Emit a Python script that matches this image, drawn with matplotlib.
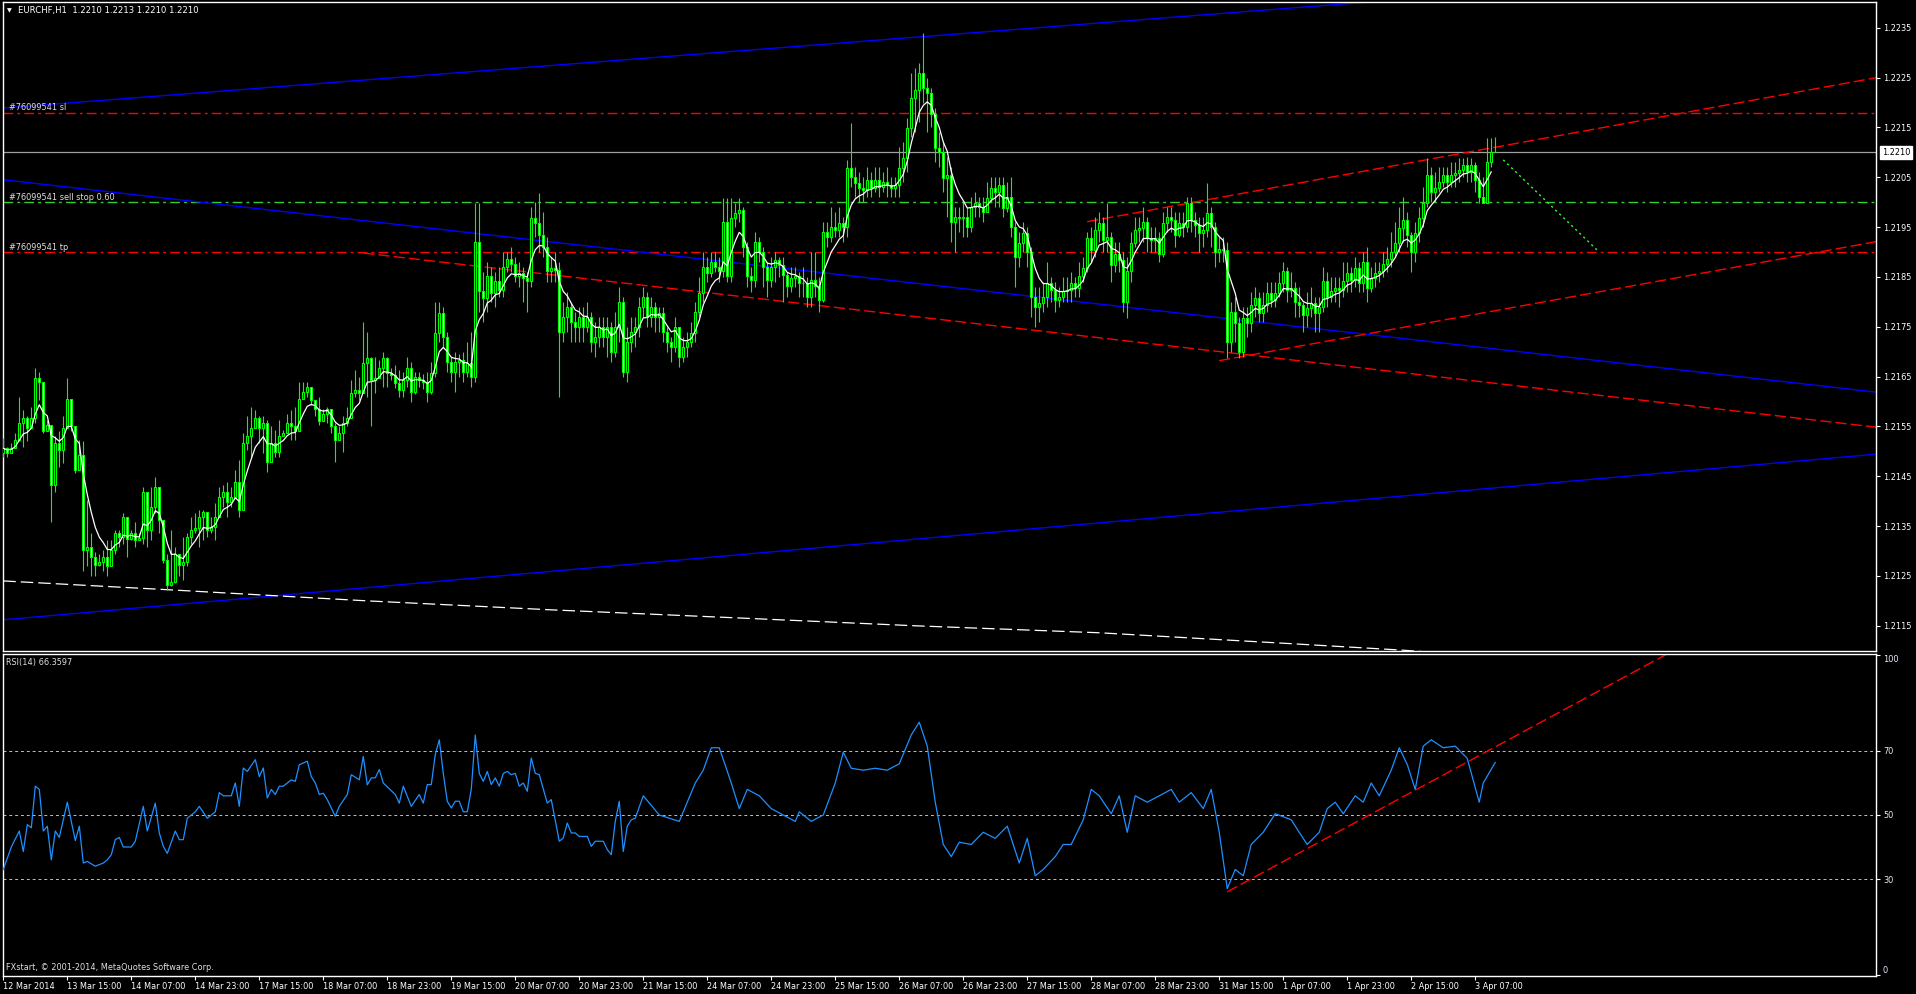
import numpy as np
import pandas as pd
import matplotlib
matplotlib.use("Agg")
import matplotlib.pyplot as plt
from matplotlib.transforms import blended_transform_factory

# ---------------- data (EURCHF H1, 12 Mar 23:00 .. 3 Apr 12:00) ----------------
first_open = 1.21496
close = [
 1.21506, 1.21496, 1.21506, 1.21523, 1.21556, 1.21566, 1.21546, 1.21566, 1.21647, 1.21640,
 1.21540, 1.21553, 1.21433, 1.21516, 1.21503, 1.21546, 1.21606, 1.21550, 1.21463, 1.21493,
 1.21302, 1.21309, 1.21289, 1.21272, 1.21279, 1.21289, 1.21269, 1.21302, 1.21336, 1.21329,
 1.21369, 1.21325, 1.21336, 1.21322, 1.21327, 1.21419, 1.21342, 1.21389, 1.21429, 1.21362,
 1.21282, 1.21232, 1.21238, 1.21295, 1.21272, 1.21279, 1.21329, 1.21342, 1.21346, 1.21369,
 1.21379, 1.21342, 1.21349, 1.21369, 1.21409, 1.21419, 1.21399, 1.21409, 1.21439, 1.21382,
 1.21516, 1.21530, 1.21546, 1.21566, 1.21546, 1.21556, 1.21479, 1.21516, 1.21499, 1.21530,
 1.21536, 1.21556, 1.21550, 1.21540, 1.21606, 1.21620, 1.21629, 1.21603, 1.21586, 1.21560,
 1.21576, 1.21586, 1.21550, 1.21523, 1.21536, 1.21556, 1.21566, 1.21617, 1.21623, 1.21617,
 1.21677, 1.21687, 1.21643, 1.21647, 1.21667, 1.21687, 1.21657, 1.21653, 1.21637, 1.21623,
 1.21643, 1.21667, 1.21620, 1.21650, 1.21643, 1.21640, 1.21620, 1.21657, 1.21737, 1.21777,
 1.21730, 1.21680, 1.21660, 1.21680, 1.21683, 1.21660, 1.21677, 1.21650, 1.21921, 1.21821,
 1.21807, 1.21851, 1.21817, 1.21841, 1.21824, 1.21871, 1.21887, 1.21877, 1.21851, 1.21857,
 1.21847, 1.21841, 1.21968, 1.21958, 1.21934, 1.21911, 1.21861, 1.21867, 1.21864, 1.21740,
 1.21770, 1.21790, 1.21760, 1.21750, 1.21770, 1.21750, 1.21770, 1.21720, 1.21730, 1.21750,
 1.21730, 1.21750, 1.21700, 1.21750, 1.21800, 1.21660, 1.21720, 1.21740, 1.21750, 1.21790,
 1.21810, 1.21770, 1.21790, 1.21770, 1.21777, 1.21740, 1.21720, 1.21710, 1.21750, 1.21690,
 1.21710, 1.21720, 1.21737, 1.21780, 1.21817, 1.21871, 1.21857, 1.21881, 1.21871, 1.21861,
 1.21961, 1.21851, 1.21968, 1.21978, 1.21984, 1.21911, 1.21851, 1.21844, 1.21921, 1.21901,
 1.21871, 1.21844, 1.21871, 1.21884, 1.21874, 1.21854, 1.21831, 1.21847, 1.21851, 1.21837,
 1.21837, 1.21810, 1.21844, 1.21831, 1.21804, 1.21941, 1.21931, 1.21951, 1.21944, 1.21958,
 1.21951, 1.22068, 1.22051, 1.22038, 1.22028, 1.22025, 1.22045, 1.22028, 1.22045, 1.22031,
 1.22041, 1.22035, 1.22028, 1.22035, 1.22068, 1.22088, 1.22148, 1.22209, 1.22225, 1.22259,
 1.22229, 1.22219, 1.22178, 1.22108, 1.22101, 1.22048, 1.22055, 1.21961, 1.21971, 1.21968,
 1.21971, 1.21951, 1.21991, 1.21998, 1.21991, 1.21981, 1.22008, 1.22028, 1.22021, 1.22035,
 1.21988, 1.22011, 1.21951, 1.21891, 1.21918, 1.21938, 1.21901, 1.21810, 1.21790, 1.21797,
 1.21810, 1.21837, 1.21824, 1.21804, 1.21810, 1.21821, 1.21824, 1.21837, 1.21827, 1.21851,
 1.21867, 1.21928, 1.21904, 1.21944, 1.21958, 1.21924, 1.21931, 1.21874, 1.21897, 1.21884,
 1.21800, 1.21861, 1.21918, 1.21944, 1.21948, 1.21961, 1.21928, 1.21924, 1.21928, 1.21897,
 1.21958, 1.21971, 1.21964, 1.21934, 1.21958, 1.21951, 1.21998, 1.21964, 1.21954, 1.21938,
 1.21944, 1.21978, 1.21951, 1.21901, 1.21907, 1.21904, 1.21720, 1.21780, 1.21757, 1.21700,
 1.21767, 1.21757, 1.21794, 1.21807, 1.21777, 1.21794, 1.21817, 1.21804, 1.21817, 1.21837,
 1.21861, 1.21824, 1.21827, 1.21800, 1.21794, 1.21774, 1.21787, 1.21797, 1.21777, 1.21790,
 1.21841, 1.21810, 1.21821, 1.21827, 1.21824, 1.21841, 1.21857, 1.21844, 1.21867, 1.21837,
 1.21881, 1.21827, 1.21847, 1.21857, 1.21861, 1.21877, 1.21887, 1.21901, 1.21918, 1.21948,
 1.21964, 1.21934, 1.21901, 1.21938, 1.21968, 1.21998, 1.22055, 1.22021, 1.22028, 1.22041,
 1.22055, 1.22041, 1.22055, 1.22058, 1.22065, 1.22075, 1.22061, 1.22075, 1.22045, 1.22011,
 1.21998, 1.22081, 1.22100, 1.22100]

high = [
 1.21526, 1.21509, 1.21516, 1.21536, 1.21610, 1.21583, 1.21570, 1.21590, 1.21667, 1.21660,
 1.21630, 1.21563, 1.21543, 1.21530, 1.21540, 1.21570, 1.21647, 1.21603, 1.21536, 1.21523,
 1.21520, 1.21402, 1.21336, 1.21299, 1.21295, 1.21302, 1.21322, 1.21322, 1.21342, 1.21342,
 1.21376, 1.21362, 1.21342, 1.21359, 1.21336, 1.21429, 1.21416, 1.21429, 1.21449, 1.21429,
 1.21359, 1.21295, 1.21342, 1.21309, 1.21295, 1.21329, 1.21336, 1.21369, 1.21376, 1.21382,
 1.21382, 1.21369, 1.21369, 1.21396, 1.21429, 1.21433, 1.21439, 1.21429, 1.21463, 1.21483,
 1.21536, 1.21570, 1.21590, 1.21583, 1.21570, 1.21570, 1.21563, 1.21550, 1.21543, 1.21563,
 1.21543, 1.21576, 1.21583, 1.21590, 1.21640, 1.21640, 1.21640, 1.21630, 1.21603, 1.21610,
 1.21586, 1.21590, 1.21583, 1.21556, 1.21550, 1.21570, 1.21590, 1.21643, 1.21663, 1.21650,
 1.21760, 1.21740, 1.21690, 1.21690, 1.21683, 1.21700, 1.21690, 1.21667, 1.21673, 1.21663,
 1.21660, 1.21690, 1.21680, 1.21660, 1.21660, 1.21655, 1.21660, 1.21680, 1.21800, 1.21800,
 1.21790, 1.21740, 1.21690, 1.21700, 1.21695, 1.21700, 1.21720, 1.21740, 1.21998, 1.21998,
 1.21860, 1.21880, 1.21870, 1.21860, 1.21870, 1.21900, 1.21900, 1.21910, 1.21890, 1.21880,
 1.21870, 1.21860, 1.21990, 1.22000, 1.22018, 1.21980, 1.21930, 1.21890, 1.21900, 1.21880,
 1.21800, 1.21820, 1.21800, 1.21780, 1.21790, 1.21790, 1.21800, 1.21780, 1.21760, 1.21770,
 1.21770, 1.21770, 1.21760, 1.21780, 1.21830, 1.21810, 1.21750, 1.21770, 1.21770, 1.21810,
 1.21830, 1.21820, 1.21810, 1.21800, 1.21790, 1.21790, 1.21750, 1.21730, 1.21770, 1.21750,
 1.21730, 1.21740, 1.21760, 1.21800, 1.21850, 1.21900, 1.21890, 1.21900, 1.21900, 1.21890,
 1.22008, 1.22008, 1.22008, 1.21998, 1.22008, 1.21990, 1.21920, 1.21870, 1.21940, 1.21930,
 1.21910, 1.21880, 1.21890, 1.21900, 1.21890, 1.21890, 1.21860, 1.21870, 1.21870, 1.21860,
 1.21870, 1.21850, 1.21900, 1.21900, 1.21850, 1.21960, 1.21960, 1.21990, 1.21980, 1.21990,
 1.21970, 1.22085, 1.22158, 1.22070, 1.22060, 1.22050, 1.22070, 1.22060, 1.22070, 1.22070,
 1.22060, 1.22070, 1.22050, 1.22050, 1.22110, 1.22120, 1.22170, 1.22260, 1.22270, 1.22279,
 1.22339, 1.22249, 1.22230, 1.22190, 1.22140, 1.22120, 1.22090, 1.22070, 1.21990, 1.21990,
 1.22000, 1.21990, 1.22010, 1.22020, 1.22010, 1.22010, 1.22040, 1.22050, 1.22050, 1.22050,
 1.22050, 1.22040, 1.22050, 1.21960, 1.21940, 1.21960, 1.21950, 1.21910, 1.21830, 1.21830,
 1.21840, 1.21880, 1.21850, 1.21840, 1.21830, 1.21850, 1.21850, 1.21860, 1.21850, 1.21880,
 1.21890, 1.21940, 1.21950, 1.21970, 1.21980, 1.21970, 1.21998, 1.21940, 1.21920, 1.21920,
 1.21900, 1.21890, 1.21940, 1.21970, 1.21970, 1.21990, 1.21970, 1.21950, 1.21950, 1.21940,
 1.21980, 1.21990, 1.21990, 1.21980, 1.21980, 1.21980, 1.22010, 1.22010, 1.21980, 1.21970,
 1.21970, 1.22038, 1.21990, 1.21960, 1.21930, 1.21930, 1.21920, 1.21800, 1.21810, 1.21770,
 1.21790, 1.21790, 1.21820, 1.21830, 1.21820, 1.21820, 1.21840, 1.21840, 1.21840, 1.21860,
 1.21880, 1.21870, 1.21860, 1.21840, 1.21830, 1.21800, 1.21820, 1.21830, 1.21810, 1.21810,
 1.21870, 1.21860, 1.21850, 1.21850, 1.21850, 1.21880, 1.21880, 1.21870, 1.21890, 1.21880,
 1.21900, 1.21910, 1.21870, 1.21880, 1.21880, 1.21900, 1.21910, 1.21940, 1.21960, 1.21990,
 1.22010, 1.21980, 1.21940, 1.21960, 1.21990, 1.22030, 1.22088, 1.22070, 1.22060, 1.22070,
 1.22070, 1.22070, 1.22080, 1.22080, 1.22088, 1.22088, 1.22090, 1.22088, 1.22080, 1.22060,
 1.22050, 1.22128, 1.22128, 1.22130]

low = [
 1.21489, 1.21489, 1.21496, 1.21506, 1.21520, 1.21509, 1.21520, 1.21546, 1.21556, 1.21603,
 1.21536, 1.21546, 1.21359, 1.21419, 1.21469, 1.21476, 1.21546, 1.21540, 1.21456, 1.21469,
 1.21259, 1.21269, 1.21249, 1.21249, 1.21269, 1.21259, 1.21249, 1.21269, 1.21295, 1.21309,
 1.21315, 1.21289, 1.21322, 1.21309, 1.21322, 1.21315, 1.21309, 1.21322, 1.21376, 1.21336,
 1.21275, 1.21222, 1.21229, 1.21235, 1.21249, 1.21242, 1.21269, 1.21315, 1.21336, 1.21309,
 1.21322, 1.21329, 1.21336, 1.21322, 1.21389, 1.21389, 1.21369, 1.21389, 1.21416, 1.21369,
 1.21416, 1.21503, 1.21489, 1.21550, 1.21516, 1.21496, 1.21459, 1.21489, 1.21489, 1.21489,
 1.21530, 1.21540, 1.21523, 1.21523, 1.21546, 1.21610, 1.21610, 1.21593, 1.21570, 1.21553,
 1.21563, 1.21556, 1.21536, 1.21479, 1.21530, 1.21499, 1.21550, 1.21576, 1.21610, 1.21603,
 1.21634, 1.21610, 1.21550, 1.21617, 1.21647, 1.21630, 1.21630, 1.21643, 1.21627, 1.21610,
 1.21610, 1.21630, 1.21600, 1.21615, 1.21630, 1.21625, 1.21600, 1.21615, 1.21650, 1.21720,
 1.21710, 1.21660, 1.21640, 1.21620, 1.21650, 1.21640, 1.21650, 1.21630, 1.21640, 1.21780,
 1.21760, 1.21780, 1.21800, 1.21790, 1.21810, 1.21810, 1.21860, 1.21860, 1.21840, 1.21830,
 1.21800, 1.21780, 1.21830, 1.21930, 1.21900, 1.21890, 1.21840, 1.21840, 1.21840, 1.21610,
 1.21720, 1.21740, 1.21720, 1.21720, 1.21720, 1.21720, 1.21740, 1.21700, 1.21690, 1.21710,
 1.21710, 1.21690, 1.21680, 1.21690, 1.21720, 1.21650, 1.21640, 1.21700, 1.21710, 1.21730,
 1.21770, 1.21750, 1.21750, 1.21740, 1.21740, 1.21720, 1.21700, 1.21680, 1.21700, 1.21670,
 1.21680, 1.21690, 1.21710, 1.21720, 1.21770, 1.21800, 1.21840, 1.21850, 1.21860, 1.21840,
 1.21850, 1.21840, 1.21840, 1.21950, 1.21960, 1.21890, 1.21830, 1.21820, 1.21830, 1.21880,
 1.21830, 1.21810, 1.21830, 1.21840, 1.21850, 1.21800, 1.21810, 1.21820, 1.21830, 1.21810,
 1.21810, 1.21790, 1.21790, 1.21810, 1.21780, 1.21800, 1.21910, 1.21920, 1.21930, 1.21930,
 1.21920, 1.21930, 1.22030, 1.22010, 1.22000, 1.22000, 1.22010, 1.22010, 1.22020, 1.22010,
 1.22020, 1.22010, 1.22010, 1.22010, 1.22010, 1.22040, 1.22060, 1.22130, 1.22140, 1.22160,
 1.22200, 1.22140, 1.22150, 1.22080, 1.22070, 1.22020, 1.21970, 1.21920, 1.21900, 1.21940,
 1.21930, 1.21930, 1.21940, 1.21970, 1.21970, 1.21960, 1.21980, 1.22000, 1.21990, 1.21990,
 1.21970, 1.21980, 1.21930, 1.21830, 1.21870, 1.21900, 1.21870, 1.21770, 1.21750, 1.21760,
 1.21780, 1.21790, 1.21800, 1.21780, 1.21790, 1.21800, 1.21800, 1.21800, 1.21810, 1.21810,
 1.21840, 1.21860, 1.21880, 1.21890, 1.21920, 1.21900, 1.21900, 1.21840, 1.21860, 1.21860,
 1.21780, 1.21767, 1.21840, 1.21910, 1.21920, 1.21920, 1.21900, 1.21900, 1.21900, 1.21880,
 1.21890, 1.21940, 1.21940, 1.21910, 1.21930, 1.21930, 1.21940, 1.21940, 1.21930, 1.21900,
 1.21910, 1.21930, 1.21910, 1.21870, 1.21880, 1.21880, 1.21687, 1.21700, 1.21720, 1.21687,
 1.21690, 1.21730, 1.21740, 1.21770, 1.21760, 1.21760, 1.21780, 1.21790, 1.21790, 1.21810,
 1.21820, 1.21800, 1.21810, 1.21770, 1.21770, 1.21740, 1.21750, 1.21770, 1.21740, 1.21740,
 1.21780, 1.21790, 1.21800, 1.21800, 1.21790, 1.21810, 1.21820, 1.21820, 1.21830, 1.21820,
 1.21820, 1.21800, 1.21820, 1.21830, 1.21840, 1.21850, 1.21860, 1.21870, 1.21890, 1.21900,
 1.21920, 1.21910, 1.21860, 1.21880, 1.21920, 1.21950, 1.21990, 1.22000, 1.22000, 1.22020,
 1.22030, 1.22020, 1.22030, 1.22030, 1.22040, 1.22050, 1.22040, 1.22040, 1.22020, 1.21998,
 1.21998, 1.21998, 1.22070, 1.22100]

ma_span = 6

# long moving average (white dashed), read at a few bars
ma_long_bar = [0, 42, 91, 137, 183, 228, 274, 320, 350, 372]
ma_long_val = [1.21240, 1.21222, 1.21200, 1.21182, 1.21166, 1.21150, 1.21136, 1.21115, 1.21101, 1.21088]

time_labels = ["12 Mar 2014", "13 Mar 15:00", "14 Mar 07:00", "14 Mar 23:00", "17 Mar 15:00",
               "18 Mar 07:00", "18 Mar 23:00", "19 Mar 15:00", "20 Mar 07:00", "20 Mar 23:00",
               "21 Mar 15:00", "24 Mar 07:00", "24 Mar 23:00", "25 Mar 15:00", "26 Mar 07:00",
               "26 Mar 23:00", "27 Mar 15:00", "28 Mar 07:00", "28 Mar 23:00", "31 Mar 15:00",
               "1 Apr 07:00", "1 Apr 23:00", "2 Apr 15:00", "3 Apr 07:00"]
label_every = 16

price_ticks = [1.2115, 1.2125, 1.2135, 1.2145, 1.2155, 1.2165, 1.2175, 1.2185,
               1.2195, 1.2205, 1.2215, 1.2225, 1.2235]

bid_price = 1.2210
sl_price = 1.2218
stop_price = 1.2200
tp_price = 1.2190

# trend lines: (bar1, price1, bar2, price2)
blue_lines = [(0, 1.22189, 300, 1.22376),
              (0, 1.22045, 300, 1.21772),
              (0, 1.21162, 300, 1.21375)]
red_rays = [(90, 1.21898, 300, 1.21704),
            (304, 1.21682, 370, 1.21778),
            (271, 1.21961, 370, 1.22106)]
green_projection = (375, 1.22085, 399, 1.21900)

rsi_points = [
 (0, 33), (2, 40), (4, 45), (5, 38.6), (6, 47), (7, 46), (8, 59), (9, 58), (10, 45), (11, 46.5),
 (12, 36), (13, 45), (14, 43), (16, 54), (18, 42), (19, 46.5), (20, 35), (21, 35.5), (23, 34),
 (25, 35), (26, 36), (27, 37.6), (28, 42.3), (29, 43), (30, 40), (32, 40), (33, 41.8), (35, 52.7),
 (36, 45), (38, 53.7), (39, 44.4), (40, 40.2), (41, 38), (43, 45), (44, 42.3), (45, 42.3), (46, 49),
 (48, 51), (49, 52.7), (51, 49), (53, 51), (54, 57), (55, 56), (57, 56), (58, 60), (59, 52.7),
 (60, 64.7), (61, 63.6), (63, 67.3), (64, 62), (65, 64.7), (66, 55.3), (67, 58), (68, 56.4),
 (69, 59), (70, 59), (72, 61), (73, 60.5), (74, 65.7), (76, 66.8), (77, 62), (78, 60), (79, 56.4),
 (80, 56.8), (81, 54.8), (83, 49.6), (84, 52.7), (86, 56.4), (87, 62.6), (89, 61), (90, 68.3),
 (91, 59.4), (92, 61.6), (93, 61.6), (94, 64.2), (95, 60), (98, 56.4), (99, 53.7), (100, 59),
 (102, 52.7), (104, 56.4), (105, 53.7), (106, 59.5), (107, 59.5), (108, 68.9), (109, 73.5),
 (110, 63), (111, 54.3), (112, 52.2), (113, 54.3), (114, 54.3), (115, 51), (116, 51), (117, 58),
 (118, 75), (119, 63), (120, 60.5), (121, 63.6), (122, 59.5), (123, 61.6), (124, 59), (125, 63),
 (126, 63.6), (127, 62.6), (128, 63), (129, 59), (130, 60), (131, 57.4), (132, 67.8), (133, 63),
 (134, 62.6), (136, 53.7), (137, 54.8), (139, 41.8), (140, 42.8), (141, 47.5), (142, 44.4),
 (143, 44.4), (144, 43.3), (146, 43.3), (147, 40.2), (148, 41.8), (150, 41.8), (151, 39.2),
 (152, 37.6), (153, 48), (154, 54.3), (155, 38.6), (156, 46.5), (157, 48.5), (158, 49),
 (160, 56), (164, 50), (169, 48), (173, 60), (175, 64), (177, 71), (179, 71), (182, 60),
 (184, 52), (186, 58), (189, 56), (192, 52), (195, 50), (198, 48), (199, 51), (202, 48),
 (205, 50), (208, 60), (210, 69.6), (212, 64.6), (215, 64), (218, 64.6), (221, 64), (224, 66),
 (227, 75), (229, 79), (231, 71.5), (233, 54), (235, 40.8), (237, 37), (239, 41.5), (242, 40.8),
 (245, 44.6), (248, 42.7), (251, 46.5), (254, 35), (256, 42.7), (258, 31), (260, 33), (263, 37),
 (265, 40.8), (267, 40.8), (270, 48.5), (272, 58), (274, 56), (277, 50.4), (279, 56), (281, 44.6),
 (283, 56), (286, 54), (289, 56), (292, 58), (294, 54), (297, 57), (300, 52), (302, 58),
 (304, 44.6), (306, 27), (308, 33), (310, 31), (312, 40.8), (315, 44.6), (318, 50.4), (322, 48.5),
 (324, 44.6), (326, 40.8), (329, 44.6), (331, 52), (333, 54), (335, 50.4), (338, 56), (340, 54),
 (342, 60), (344, 56), (347, 64), (349, 71), (351, 65.8), (353, 58), (355, 71.5), (357, 73.5),
 (360, 71), (363, 71.5), (366, 67.7), (369, 54), (370, 60), (373, 66.4)]
rsi_levels = [30, 50, 70]
rsi_ticks = [0, 30, 50, 70, 100]
rsi_ray = (306, 26.0, 372, 70.6)

# ---------------- figure ----------------
W, H = 1916, 994
FONT = 5.9
plt.rcParams['font.family'] = ['DejaVu Sans']
fig = plt.figure(figsize=(W / 100, H / 100), dpi=100, facecolor='black')

def fx(px):
    return px / W

def fy(py):
    return 1 - py / H

ax = fig.add_axes([fx(2.7), fy(651), (1876 - 2.7) / W, (651 - 2) / H])
ax2 = fig.add_axes([fx(2.7), fy(976), (1876 - 2.7) / W, (976 - 654) / H])
XMAX = 468.2
for a in (ax, ax2):
    a.set_facecolor('black')
    for s in a.spines.values():
        s.set_color('white')
        s.set_linewidth(1.0)
    a.set_xlim(-0.15, XMAX)
ax.set_ylim(1.210994, 1.224018)
ax2.set_ylim(-0.3, 100.3)

c = np.array(close)
o = np.concatenate([[first_open], c[:-1]])
h = np.maximum(np.array(high), np.maximum(o, c))
l = np.minimum(np.array(low), np.minimum(o, c))
x = np.arange(len(c))

RED = '#ff0000'
BLUE = '#0000ff'
LGREEN = '#32cd32'
LIME = '#00ff00'
dashdot = (0, (7, 3, 2, 3))
dash = (0, (8, 3))
LW = 1.0

# horizontal order levels
ax.axhline(sl_price, color=RED, lw=LW, ls=dashdot, zorder=2)
ax.axhline(tp_price, color=RED, lw=LW, ls=dashdot, zorder=2)
ax.axhline(stop_price, color=LGREEN, lw=LW, ls=dashdot, zorder=2)
ax.axhline(bid_price, color='#a0a0a0', lw=0.9, zorder=2)

# trend lines
for b1, p1, b2, p2 in blue_lines:
    ax.axline((b1, p1), (b2, p2), color=BLUE, lw=LW, zorder=2)
for b1, p1, b2, p2 in red_rays:
    slope = (p2 - p1) / (b2 - b1)
    ax.plot([b1, XMAX + 5], [p1, p1 + slope * (XMAX + 5 - b1)], color=RED, lw=LW, ls=dash, zorder=2)
gb1, gp1, gb2, gp2 = green_projection
ax.plot([gb1, gb2], [gp1, gp2], color='#3cff3c', lw=1.0, ls=(0, (1.5, 2.5)), zorder=2)

# long MA
ax.plot(ma_long_bar, ma_long_val, color='white', lw=0.9, ls=(0, (10, 4)), zorder=2)

# candles
ax.vlines(x, l, h, colors=LIME, linewidth=0.8, zorder=3)
bull = c >= o
fills = np.where(bull, 'black', 'white')
ax.bar(x, np.abs(c - o), bottom=np.minimum(o, c), width=0.5, color=list(fills),
       edgecolor=LIME, linewidth=0.8, zorder=4)

# short MA
ma = pd.Series(c).ewm(span=ma_span, adjust=False).mean()
ax.plot(x[:-1], ma.values[:-1], color='white', lw=0.9, zorder=5)

# price axis
ax.set_xticks([])
ax.yaxis.tick_right()
ax.set_yticks(price_ticks)
ax.set_yticklabels([f"{v:.4f}" for v in price_ticks])
ax.tick_params(axis='y', colors='white', labelcolor='white', direction='out',
               length=3, width=0.8, labelsize=FONT, pad=2)
trans = blended_transform_factory(ax.transAxes, ax.transData)
ax.text(1.0032, bid_price, f"{bid_price:.4f}", transform=trans, ha='left', va='center',
        fontsize=FONT, color='black', zorder=10, clip_on=False,
        bbox=dict(boxstyle='square,pad=0.25', fc='white', ec='white'))

# RSI panel
rb = [p[0] for p in rsi_points]
rv = [p[1] for p in rsi_points]
for lv in rsi_levels:
    ax2.axhline(lv, color='#c0c0c0', lw=0.7, ls=(0, (3, 3)), zorder=1)
rslope = (rsi_ray[3] - rsi_ray[1]) / (rsi_ray[2] - rsi_ray[0])
ax2.plot([rsi_ray[0], XMAX + 5], [rsi_ray[1], rsi_ray[1] + rslope * (XMAX + 5 - rsi_ray[0])],
         color=RED, lw=LW, ls=dash, zorder=2)
ax2.plot(rb, rv, color='#1e90ff', lw=0.9, zorder=3)

ax2.yaxis.tick_right()
ax2.set_yticks(rsi_ticks)
ax2.set_yticklabels([str(t) for t in rsi_ticks])
ax2.tick_params(axis='y', colors='white', labelcolor='#e8eeff', direction='out',
                length=3, width=0.8, labelsize=FONT, pad=2)
ylabs = ax2.get_yticklabels()
ylabs[0].set_va('bottom')
ylabs[-1].set_va('top')

ax2.set_xticks([label_every * k for k in range(len(time_labels))])
ax2.set_xticklabels(time_labels)
ax2.tick_params(axis='x', colors='white', labelcolor='white', direction='out',
                length=3, width=0.8, labelsize=FONT, pad=1.5)
for t in ax2.get_xticklabels():
    t.set_ha('left')

# texts
fig.text(fx(7), fy(11), "\u25bc", color='white', fontsize=4.5, ha='left', va='center')
fig.text(fx(18), fy(11), "EURCHF,H1  1.2210 1.2213 1.2210 1.2210", color='white',
         fontsize=6.1, ha='left', va='center')
fig.text(fx(9), fy(108), "#76099541 sl", color='#e0e0e0', fontsize=FONT, ha='left', va='center')
fig.text(fx(9), fy(198), "#76099541 sell stop 0.60", color='#e0e0e0', fontsize=FONT, ha='left', va='center')
fig.text(fx(9), fy(247), "#76099541 tp", color='#e0e0e0', fontsize=FONT, ha='left', va='center')
fig.text(fx(6), fy(662), "RSI(14) 66.3597", color='#e0e0e0', fontsize=FONT, ha='left', va='center')
fig.text(fx(6), fy(967), "FXstart, \u00a9 2001-2014, MetaQuotes Software Corp.", color='#e0e0e0',
         fontsize=FONT, ha='left', va='center')

fig.savefig("out.png", dpi=100, facecolor='black')
